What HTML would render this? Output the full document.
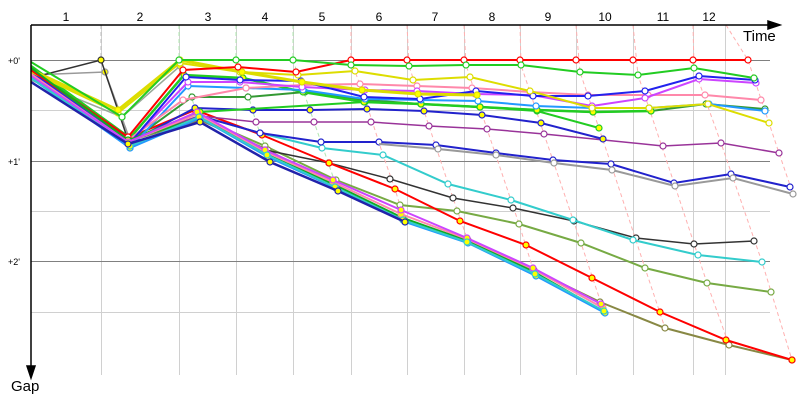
<!DOCTYPE html>
<html><head><meta charset="utf-8"><style>
body{margin:0;background:#fff;}
svg{display:block;font-family:"Liberation Sans",sans-serif;}
</style></head><body>
<svg id="s" width="800" height="400" viewBox="0 0 800 400" xmlns="http://www.w3.org/2000/svg">
<rect width="800" height="400" fill="#fff"/>
<g stroke="#d0d0d0" stroke-width="1">
<line x1="101.5" y1="25" x2="101.5" y2="375"/><line x1="179.5" y1="25" x2="179.5" y2="375"/>
<line x1="236.5" y1="25" x2="236.5" y2="375"/><line x1="293.5" y1="25" x2="293.5" y2="375"/>
<line x1="351.5" y1="25" x2="351.5" y2="375"/><line x1="407.5" y1="25" x2="407.5" y2="375"/>
<line x1="464.5" y1="25" x2="464.5" y2="375"/><line x1="520.5" y1="25" x2="520.5" y2="375"/>
<line x1="576.5" y1="25" x2="576.5" y2="375"/><line x1="633.5" y1="25" x2="633.5" y2="375"/>
<line x1="693.5" y1="25" x2="693.5" y2="375"/><line x1="725.5" y1="25" x2="725.5" y2="375"/>
<line x1="31" y1="110.5" x2="770" y2="110.5"/><line x1="31" y1="211.5" x2="770" y2="211.5"/>
<line x1="31" y1="312.5" x2="770" y2="312.5"/>
</g>
<g stroke="#808080" stroke-width="1">
<line x1="31" y1="60.5" x2="770" y2="60.5"/><line x1="31" y1="161.5" x2="770" y2="161.5"/>
<line x1="31" y1="261.5" x2="770" y2="261.5"/>
</g>
<g fill="none" stroke-dasharray="4,3" stroke-width="1">
<polyline stroke="#bbb" points="101,25 101,60 105,72 122,117 130,140"/>
<polyline stroke="#b0e8b0" points="179,25 179,60 184,75 195,108 205,120"/>
<polyline stroke="#b0e8b0" points="236,25 236,60 246,88 256,122 270,160"/>
<polyline stroke="#b0e8b0" points="293,25 293,60 303,90 321,142 338,191"/>
<polyline stroke="#ffb0b0" points="351,25 351,60 365,99 383,155 395,189 405,222"/>
<polyline stroke="#ffb0b0" points="407,25 409,66 424,111 453,198 468,241"/>
<polyline stroke="#ffb0b0" points="464,25 466,65 487,129 519,224 534,272"/>
<polyline stroke="#ffb0b0" points="520,25 521,65 544,134 581,243 604,312"/>
<polyline stroke="#ffb0b0" points="576,25 580,72 611,164 645,268 665,328"/>
<polyline stroke="#ffb0b0" points="633,25 638,75 674,183 707,283 729,345"/>
<polyline stroke="#ffb0b0" points="693,25 694,68 721,143 762,262 792,360"/>
<polyline stroke="#ffb0b0" points="726,25 748,60 779,153 793,194"/>
</g>
<g id="ser"></g>
<g stroke="#000" stroke-width="1.5" fill="#000">
<line x1="31" y1="25" x2="770" y2="25"/><polygon points="780,25 768,21 768,29"/>
<line x1="31" y1="25" x2="31" y2="368"/><polygon points="31,378 27,366 35,366"/>
</g>
<g font-size="12" fill="#000" text-anchor="middle">
<text x="66" y="21">1</text><text x="140" y="21">2</text><text x="208" y="21">3</text>
<text x="265" y="21">4</text><text x="322" y="21">5</text><text x="379" y="21">6</text>
<text x="435" y="21">7</text><text x="492" y="21">8</text><text x="548" y="21">9</text>
<text x="605" y="21">10</text><text x="663" y="21">11</text><text x="709" y="21">12</text>
</g>
<text x="743" y="41" font-size="15">Time</text>
<text x="11" y="391" font-size="15">Gap</text>
<g font-size="9" fill="#000"><text x="8" y="64">+0'</text><text x="8" y="165">+1'</text><text x="8" y="265">+2'</text></g>
</svg>
<script>
var S=[
["#999",1.5,"y",[31,75,105,72,130,140]],
["#333",1.5,"y",[31,78,101,60,128,140]],
["#9a9",1.5,"y",[31,80,122,117,180,66]],
["#7a4",2,"w",[31,70,128,140,200,118,265,146,336,180,400,205,457,211,519,224,581,243,645,268,707,283,771,292]],
["#884",2,"w",[31,76,128,141,200,120,268,150,336,188,403,220,468,240,534,270,600,302,665,328,729,345,792,360]],
["#333",1.5,"w",[31,74,128,140,200,118,265,150,329,163,390,179,453,198,513,208,574,221,636,238,694,244,754,241]],
["#3cc",2,"w",[31,72,129,141,200,116,260,133,322,148,383,155,448,184,511,200,573,220,633,240,698,255,762,262]],
["#f00",2,"y",[31,78,130,137,195,110,262,135,329,163,395,189,460,221,526,245,592,278,660,312,726,340,792,360]],
["#22c",2,"w",[31,74,130,140,200,116,260,133,321,142,379,142,436,145,496,153,553,160,611,164,674,183,731,174,790,187]],
["#999",2,"w",[379,144,438,149,496,155,554,163,612,170,675,186,733,178,793,194]],
["#939",1.5,"w",[31,78,130,140,200,116,256,122,314,122,371,122,429,126,487,129,544,134,663,146,721,143,779,153]],
["#22c",2,"y",[31,68,130,142,195,108,253,110,310,110,367,109,424,111,482,115,541,123,603,139]],
["#2c2",2,"y",[31,70,128,140,200,112,365,102,421,104,480,107,537,111,599,128]],
["#393",2,"w",[31,72,130,142,192,97,248,97,305,92,365,100,421,104,480,107,537,110,593,112,651,111,706,104,765,109]],
["#2c2",2.5,"y",[31,66,130,138,184,75,243,78,303,92,364,102,421,104,480,107,537,110,593,112,651,111]],
["#29f",2,"w",[31,76,130,148,188,86,246,88,303,90,365,99,421,100,478,101,536,106,592,108,649,108,709,104,765,111]],
["#f8a",2,"w",[31,74,128,140,183,100,246,88,302,85,360,84,417,86,472,88,530,92,588,95,648,95,705,95,761,100]],
["#c4f",2,"w",[31,76,130,142,188,82,240,82,302,87,365,90,417,91,475,94,532,95,592,106,645,98,699,79,756,83]],
["#22e",2,"w",[31,72,130,143,186,77,240,80,301,81,364,97,420,99,476,91,533,96,588,96,645,91,699,76,755,80]],
["#dd0",2,"w",[31,72,118,113,180,63,240,72,298,75,355,71,413,80,470,77,530,91,592,108,649,108,708,104,769,123]],
["#dd0",3,"y",[31,70,118,110,180,60,242,72,302,82,362,90,418,94,477,95]],
["#f00",2,"w",[31,70,128,137,183,70,238,67,296,72,351,60,407,60,464,60,520,60,576,60,633,60,693,60,748,60]],
["#2c2",2,"w",[31,62,122,117,179,60,236,60,293,60,351,65,409,66,466,65,521,65,580,72,638,75,694,68,754,78]],
["#1a2",2,"y",[31,68,128,140,200,118,268,155,335,185,403,218,468,241,534,272,604,312]],
["#f8a",2,"y",[31,74,128,142,198,114,266,152,333,182,401,214,467,239,533,269,603,308]],
["#c4f",2,"y",[31,76,128,142,197,112,265,150,333,180,401,210,467,238,533,268,601,304]],
["#29f",2,"y",[31,78,130,148,200,118,268,157,336,188,405,222,468,243,536,276,605,313]],
["#3cc",2,"y",[31,78,130,146,199,117,267,155,335,187,403,220,467,242,535,274,604,311]],
["#22a",2.5,"y",[31,82,128,144,200,122,270,162,338,191,405,222]]
];
var g=document.getElementById("ser"),h="";
S.forEach(function(s){var p=s[3],pts=[];for(var i=0;i<p.length;i+=2)pts.push(p[i]+","+p[i+1]);
h+='<polyline fill="none" stroke="'+s[0]+'" stroke-width="'+s[1]+'" points="'+pts.join(" ")+'"/>';
for(var i=2;i<p.length;i+=2)h+='<circle cx="'+p[i]+'" cy="'+p[i+1]+'" r="3" fill="'+(s[2]=="y"?"#ff0":"#fff")+'" stroke="'+s[0]+'" stroke-width="1.2"/>';});
g.innerHTML=h;
</script>
</body></html>
